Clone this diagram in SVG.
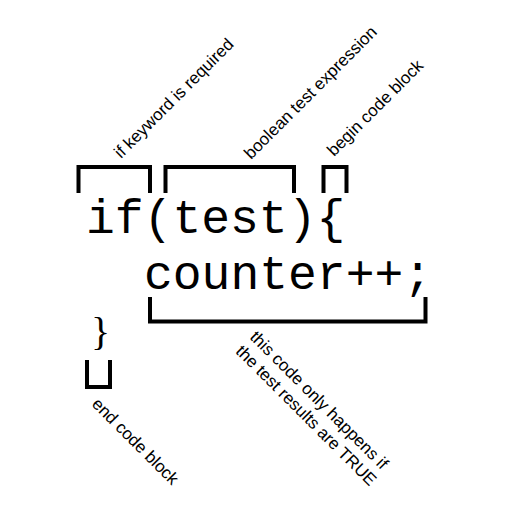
<svg xmlns="http://www.w3.org/2000/svg" width="505" height="525" viewBox="0 0 505 525">
  <style>
    .code { font-family: "Liberation Mono", "Courier New", monospace; font-size: 48px; fill: #000; }
    .brace { font-family: "Liberation Serif", "Times New Roman", serif; font-size: 40px; fill: #000; }
    .note { font-family: "Liberation Sans", Arial, sans-serif; font-size: 17px; fill: #000; }
    .bracket { fill: none; stroke: #000; stroke-width: 4; stroke-linejoin: miter; stroke-linecap: butt; }
  </style>
  <rect width="505" height="525" fill="#fff"/>

  <!-- source code being annotated -->
  <g id="code">
    <text class="code" x="86" y="233">if(test){</text>
    <text class="code" x="144" y="289">counter++;</text>
    <text class="brace" x="91" y="345">}</text>
  </g>

  <!-- annotation brackets with their labels -->
  <g id="keyword">
    <path class="bracket" d="M78.5,193 V167 H150 V193"/>
    <text class="note" transform="translate(121,159) rotate(-45)">if keyword is required</text>
  </g>

  <g id="test-expression">
    <path class="bracket" d="M165.5,193 V167 H294 V193"/>
    <text class="note" transform="translate(251,160) rotate(-45)">boolean test expression</text>
  </g>

  <g id="begin-block">
    <path class="bracket" d="M323.5,193 V167 H346.5 V193"/>
    <text class="note" transform="translate(334,157) rotate(-45)">begin code block</text>
  </g>

  <g id="body">
    <path class="bracket" d="M150,297 V321.5 H425.5 V297"/>
    <text class="note" transform="translate(249,338) rotate(45)">
      <tspan x="0" y="0">this code only happens if</tspan>
      <tspan x="0" y="20">the test results are TRUE</tspan>
    </text>
  </g>

  <g id="end-block">
    <path class="bracket" d="M87,360 V387 H110 V360"/>
    <text class="note" transform="translate(91,405) rotate(45)">end code block</text>
  </g>

  <g id="connectors"/>
</svg>
